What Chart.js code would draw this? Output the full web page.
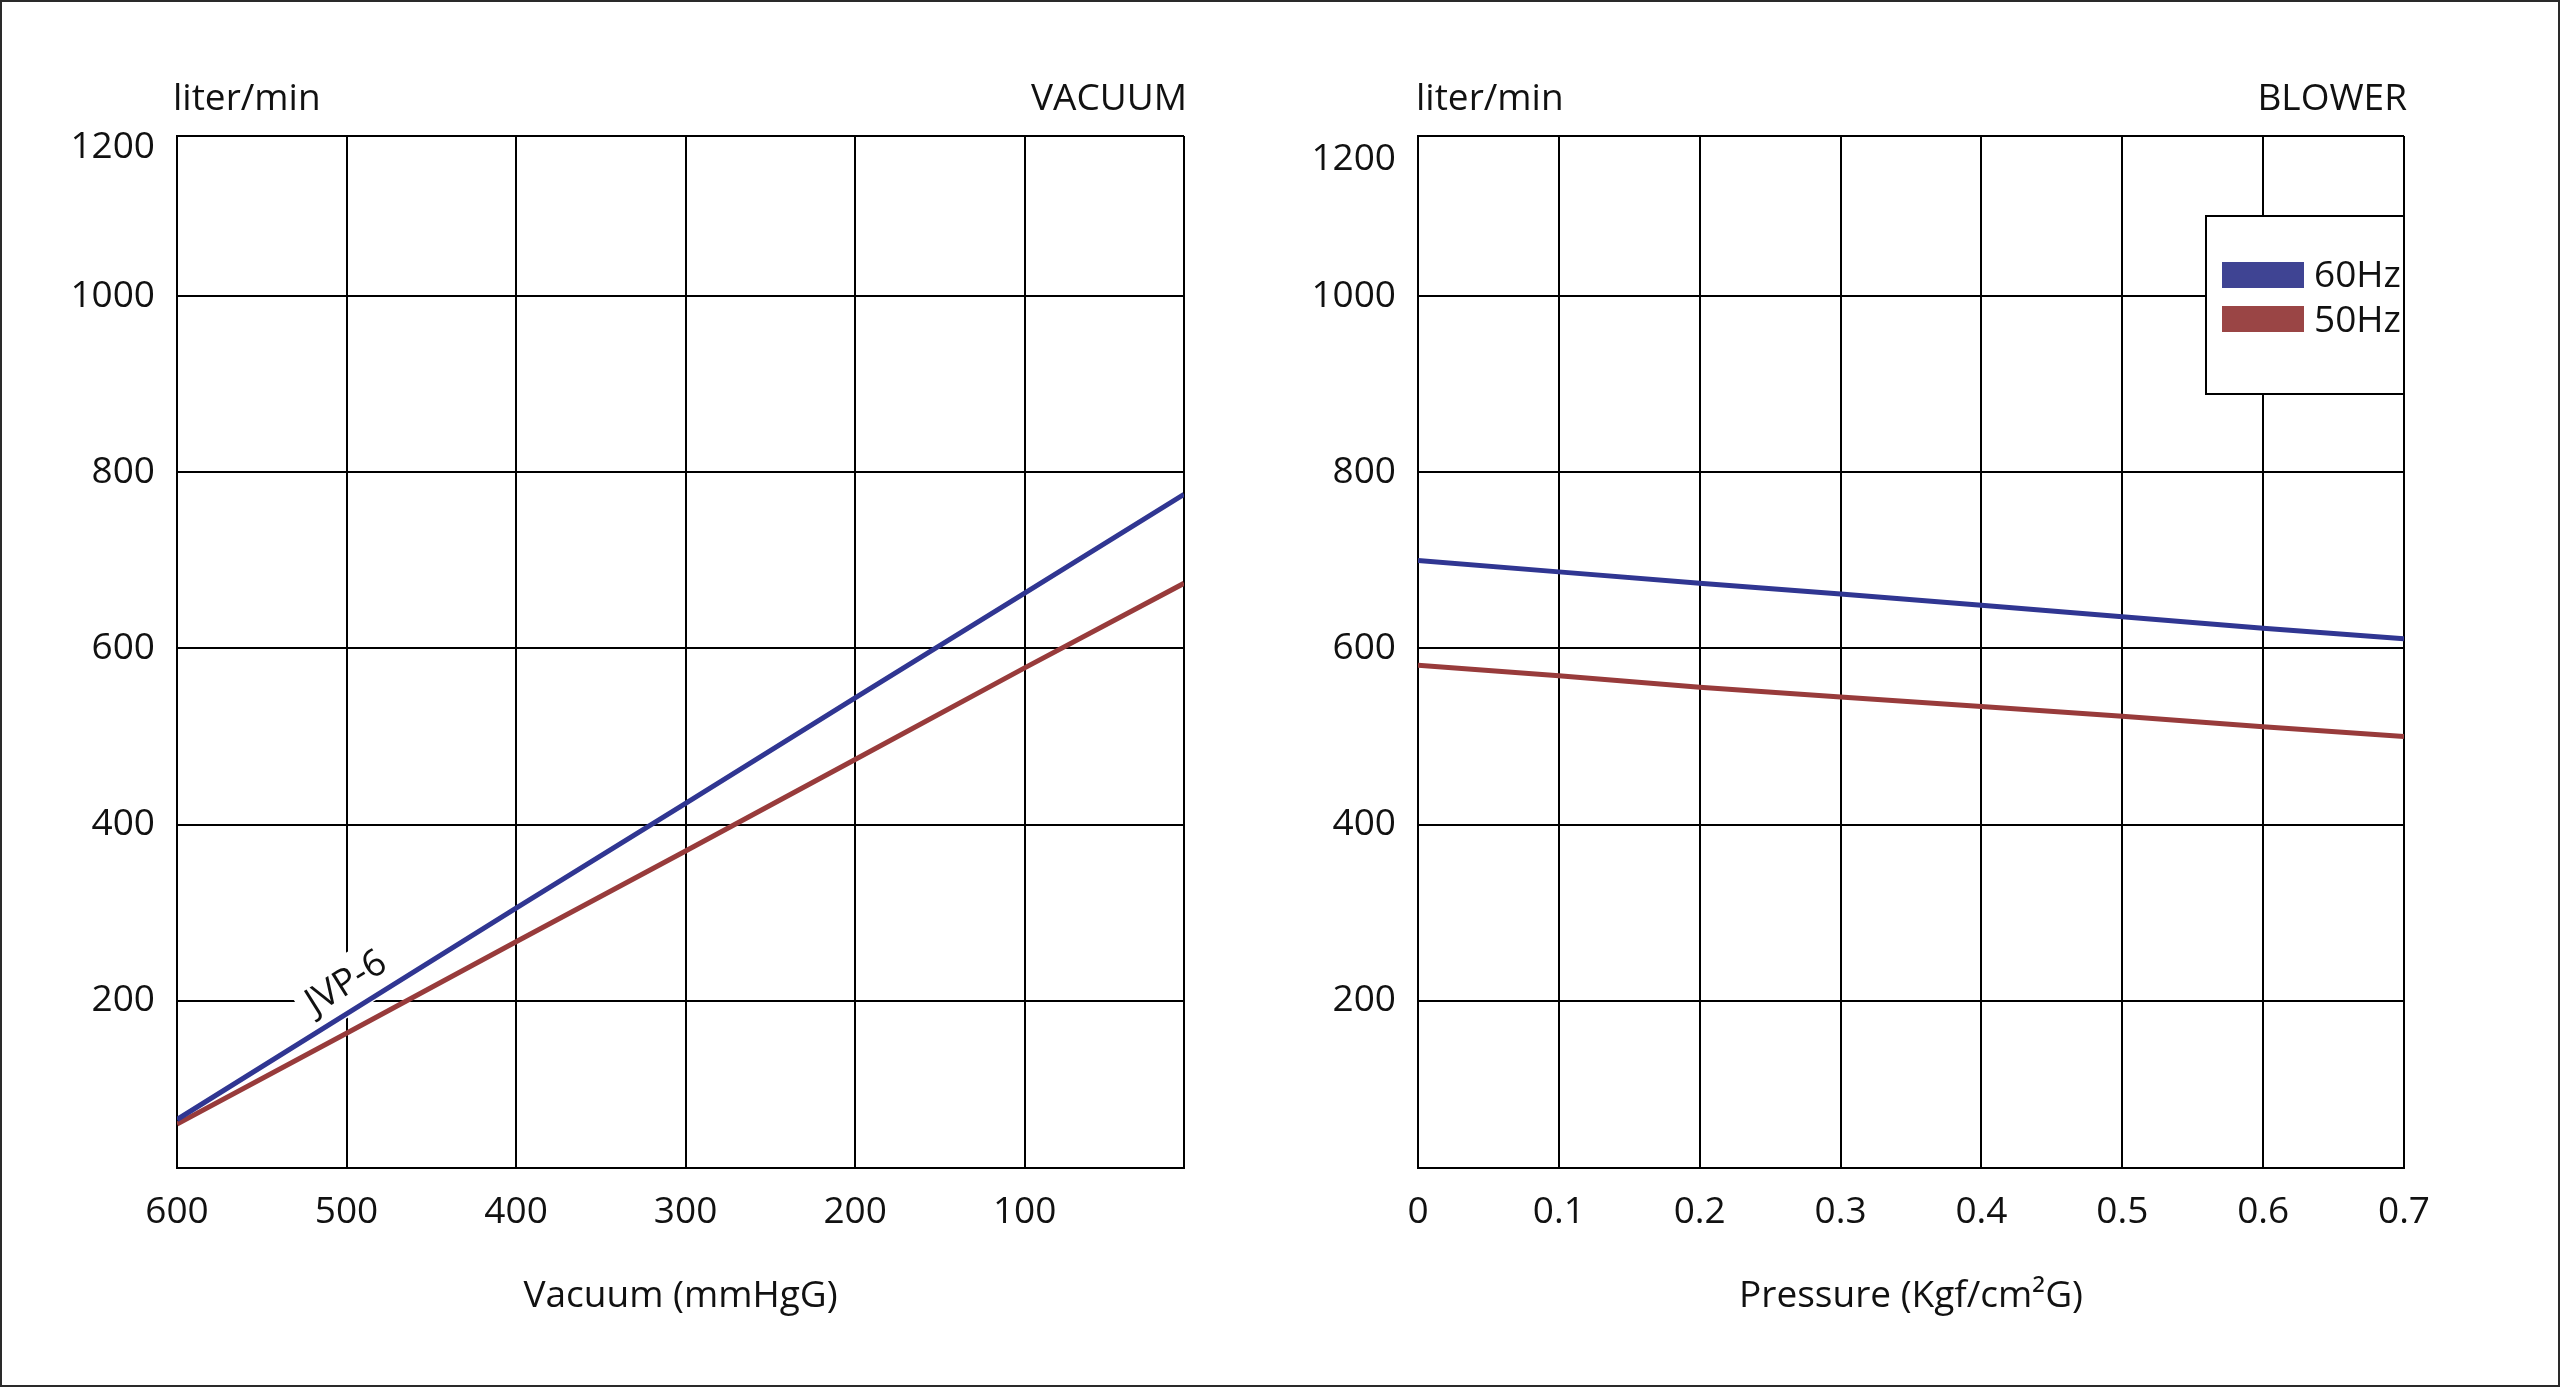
<!DOCTYPE html>
<html>
<head>
<meta charset="utf-8">
<script src="https://cdn.jsdelivr.net/npm/chart.js@4.4.0/dist/chart.umd.min.js"></script>
<style>
html, body {margin: 0; padding: 0; background: #ffffff;}
#frame {position: absolute; left: 0; top: 0; width: 2560px; height: 1387px; box-sizing: border-box; border: 2px solid #2a2a2a;}
#vacuumPlot {position: absolute; left: 0; top: 0;}
#blowerPlot {position: absolute; left: 1280px; top: 0;}
</style>
</head>
<body>
<div id="frame"></div>
<canvas id="vacuumPlot" width="1280" height="1387"></canvas>
<canvas id="blowerPlot" width="1280" height="1387"></canvas>
<script>
// values
const seriesLabels = ['60Hz', '50Hz']

const vacuumX = [600, 500, 400, 300, 200, 100, 6]
const vacuum60 = [65, 185, 305, 424, 544, 663, 775]
const vacuum50 = [60, 163, 267, 370, 474, 578, 674]

const pressureX = [0, 0.1, 0.2, 0.3, 0.4, 0.5, 0.6, 0.7]
const blower60 = [700, 687, 674, 662, 649, 636, 623, 611]
const blower50 = [581, 569, 556, 545, 534, 523, 511, 500]

const yTicks = [10, 200, 400, 600, 800, 1000, 1182]
const yTickLabels = ['', '200', '400', '600', '800', '1000', '1200']
const vacuumTicks = [600, 500, 400, 300, 200, 100, 6]
const vacuumTickLabels = ['600', '500', '400', '300', '200', '100', '']
const pressureTicks = [0, 0.1, 0.2, 0.3, 0.4, 0.5, 0.6, 0.7]
const pressureTickLabels = ['0', '0.1', '0.2', '0.3', '0.4', '0.5', '0.6', '0.7']

const lineColors = ['#303692', '#983b3b']
const swatchColors = ['#3f4493', '#9a4545']

Chart.defaults.font.family = '"Open Sans", sans-serif'
Chart.defaults.font.size = 37
Chart.defaults.color = '#111111'

const FONT = '37px "Open Sans", sans-serif'

const sheetText = {
  id: 'sheetText',
  beforeDatasetsDraw: (chart, args, opts) => {
    if (!opts.tag) return
    const {ctx} = chart
    const px = chart.scales.x.getPixelForValue(opts.tag.at[0])
    const py = chart.scales.y.getPixelForValue(opts.tag.at[1])
    ctx.save()
    ctx.translate(px, py)
    ctx.rotate(opts.tag.angle * Math.PI / 180)
    ctx.font = FONT
    const w = ctx.measureText(opts.tag.text).width
    ctx.fillStyle = '#ffffff'
    ctx.fillRect(-w / 2 - 10, -26, w + 20, 56)
    ctx.fillStyle = '#111111'
    ctx.textAlign = 'center'
    ctx.textBaseline = 'middle'
    ctx.fillText(opts.tag.text, 0, 0)
    ctx.restore()
  },
  afterDraw: (chart, args, opts) => {
    const {ctx, chartArea} = chart
    ctx.save()
    ctx.font = FONT
    ctx.fillStyle = '#111111'
    ctx.textBaseline = 'alphabetic'
    ctx.textAlign = 'left'
    ctx.fillText(opts.unit, chartArea.left + opts.unitShift, 110)
    ctx.textAlign = 'right'
    ctx.fillText(opts.mode, chartArea.right + 3, 110)

    if (opts.legend) {
      const left = chartArea.right - opts.legend.width
      const top = opts.legend.top
      ctx.fillStyle = '#ffffff'
      ctx.fillRect(left, top, opts.legend.width, opts.legend.height)
      ctx.strokeStyle = '#000000'
      ctx.lineWidth = 2
      ctx.strokeRect(left, top, opts.legend.width, opts.legend.height)
      ctx.textAlign = 'left'
      chart.data.datasets.forEach((ds, i) => {
        ctx.fillStyle = ds.backgroundColor
        ctx.fillRect(left + 16, top + 46 + 44 * i, 82, 26)
        ctx.fillStyle = '#111111'
        ctx.fillText(ds.label, left + 108, top + 71 + 45 * i)
      })
    }
    ctx.restore()
  }
}

function makeDatasets(xs, a, b){
  return [a, b].map((vals, i) => ({
    label: seriesLabels[i],
    data: xs.map((x, k) => ({x: x, y: vals[k]})),
    borderColor: lineColors[i],
    backgroundColor: swatchColors[i],
    borderWidth: 5,
    pointRadius: 0,
    tension: 0
  }))
}

function gridOpts(){
  return {color: '#000000', lineWidth: 2, drawTicks: false}
}

// the top label "1200" sits a little under the top edge on the sheet
function yScale(axisWidth, topDrop){
  const last = yTicks.length - 1
  return {
    type: 'linear',
    min: yTicks[0],
    max: yTicks[last],
    afterBuildTicks: s => { s.ticks = yTicks.map(v => ({value: v})) },
    afterFit: s => { s.width = axisWidth },
    grid: gridOpts(),
    border: {color: '#000000', width: 2},
    ticks: {
      padding: 22,
      font: c => c.index === last ? {size: 37, lineHeight: (topDrop * 2) + 'px'} : {size: 37, lineHeight: 1.2},
      callback: (v, i) => i === last ? ['', yTickLabels[i]] : yTickLabels[i]
    }
  }
}

function xScale(ticks, labels, title, reverse){
  return {
    type: 'linear',
    reverse: reverse,
    min: Math.min(...ticks),
    max: Math.max(...ticks),
    afterBuildTicks: s => { s.ticks = ticks.map(v => ({value: v})) },
    afterFit: s => { s.height = 219 },
    grid: gridOpts(),
    border: {color: '#000000', width: 2},
    ticks: {padding: 22, maxRotation: 0, autoSkip: false, callback: (v, i) => labels[i]},
    title: {display: true, text: title, padding: {top: 0, bottom: 68}}
  }
}

new Chart(
  'vacuumPlot',
  {
    type: 'line',
    data: {datasets: makeDatasets(vacuumX, vacuum60, vacuum50)},
    options: {
      responsive: false,
      devicePixelRatio: 1,
      animation: false,
      layout: {padding: {top: 136, right: 96, bottom: 0, left: 0}},
      scales: {
        x: xScale(vacuumTicks, vacuumTickLabels, 'Vacuum (mmHgG)', true),
        y: yScale(177, 11)
      },
      plugins: {
        legend: {display: false},
        tooltip: {enabled: false},
        sheetText: {
          unit: 'liter/min', unitShift: -4, mode: 'VACUUM',
          tag: {text: 'JVP-6', at: [500, 220], angle: -32}
        }
      }
    },
    plugins: [sheetText]
  }
)

new Chart(
  'blowerPlot',
  {
    type: 'line',
    data: {datasets: makeDatasets(pressureX, blower60, blower50)},
    options: {
      responsive: false,
      devicePixelRatio: 1,
      animation: false,
      layout: {padding: {top: 136, right: 156, bottom: 0, left: 0}},
      scales: {
        x: xScale(pressureTicks, pressureTickLabels, 'Pressure (Kgf/cm²G)', false),
        y: yScale(138, 23)
      },
      plugins: {
        legend: {display: false},
        tooltip: {enabled: false},
        sheetText: {
          unit: 'liter/min', unitShift: -2, mode: 'BLOWER',
          legend: {top: 216, width: 198, height: 178}
        }
      }
    },
    plugins: [sheetText]
  }
)
</script>
</body>
</html>
